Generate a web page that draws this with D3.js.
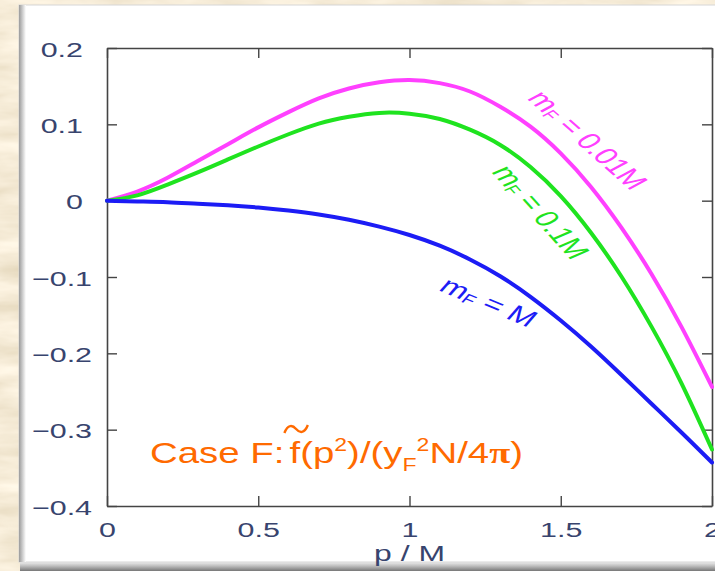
<!DOCTYPE html>
<html>
<head>
<meta charset="utf-8">
<script src="https://d3js.org/d3.v7.min.js"></script>
<style>
  body { margin: 0; padding: 0; overflow: hidden; }
  svg { display: block; }
</style>
</head>
<body>
<svg id="vis"></svg>

<script>
  // values
  var pVals = [0, 0.1, 0.2, 0.3, 0.4, 0.5, 0.6, 0.7, 0.8, 0.9, 1.0,
               1.1, 1.2, 1.3, 1.4, 1.5, 1.6, 1.7, 1.8, 1.9, 2.0];
  var mf001 = [0, 0.012, 0.030, 0.052, 0.074, 0.096, 0.116, 0.134, 0.147, 0.155, 0.158,
               0.154, 0.143, 0.123, 0.097, 0.062, 0.018, -0.035, -0.096, -0.166, -0.244];
  var mf01  = [0, 0.007, 0.021, 0.037, 0.054, 0.071, 0.087, 0.101, 0.110, 0.115, 0.114,
               0.107, 0.093, 0.073, 0.044, 0.006, -0.042, -0.099, -0.165, -0.240, -0.326];
  var mfM   = [0, -0.001, -0.002, -0.004, -0.006, -0.009, -0.013, -0.018, -0.025, -0.034, -0.045,
               -0.059, -0.077, -0.099, -0.126, -0.157, -0.191, -0.228, -0.266, -0.304, -0.343];

  var seriesNames = ['= 0.01M', '= 0.1M', '= M'];
  var seriesColors = ['#ff40ff', '#1fe31f', '#1c1cf5'];

  var xTicks = [0, 0.5, 1, 1.5, 2];
  var xTickLabels = ['0', '0.5', '1', '1.5', '2'];
  var yTicks = [0.2, 0.1, 0, -0.1, -0.2, -0.3, -0.4];
  var yTickLabels = ['0.2', '0.1', '0', '\u22120.1', '\u22120.2', '\u22120.3', '\u22120.4'];

  var W = 715, H = 571;
  var stretch = 1.45;   // the original picture was widened

  var svg = d3.select('#vis').attr('width', W).attr('height', H);
  var defs = svg.append('defs');

  // parchment texture
  var f = defs.append('filter').attr('id', 'paper')
      .attr('x', 0).attr('y', 0).attr('width', '100%').attr('height', '100%');
  f.append('feTurbulence').attr('type', 'fractalNoise')
      .attr('baseFrequency', '0.012 0.05').attr('numOctaves', 4).attr('seed', 7);
  f.append('feColorMatrix').attr('type', 'matrix')
      .attr('values', '0.35 0 0 0 0.74  0.38 0 0 0 0.64  0.45 0 0 0 0.45  0 0 0 0 1');

  var lg = defs.append('linearGradient').attr('id', 'leftEdge');
  lg.append('stop').attr('offset', '0%').attr('stop-color', '#9a9a9a');
  lg.append('stop').attr('offset', '100%').attr('stop-color', '#ffffff');
  var bg = defs.append('linearGradient').attr('id', 'bottomEdge')
      .attr('x1', 0).attr('y1', 0).attr('x2', 0).attr('y2', 1);
  bg.append('stop').attr('offset', '0%').attr('stop-color', '#eeeeee');
  bg.append('stop').attr('offset', '45%').attr('stop-color', '#bdbdbd');
  bg.append('stop').attr('offset', '100%').attr('stop-color', '#777777');

  svg.append('rect').attr('width', W).attr('height', H).attr('filter', 'url(#paper)');

  // white panel with bevelled edges
  svg.append('rect').attr('x', 20).attr('y', 562).attr('width', W).attr('height', 9)
      .attr('fill', 'url(#bottomEdge)');
  svg.append('rect').attr('x', 19).attr('y', 5).attr('width', W).attr('height', 557)
      .attr('fill', '#ffffff').attr('stroke', '#d6d6d6').attr('stroke-width', 1);
  svg.append('rect').attr('x', 19).attr('y', 5).attr('width', 7).attr('height', 557)
      .attr('fill', 'url(#leftEdge)');

  var margin = {left: 107, right: 712, top: 48, bottom: 506};
  var x = d3.scaleLinear().domain([0, 2]).range([margin.left, margin.right]);
  var y = d3.scaleLinear().domain([-0.4, 0.2]).range([margin.bottom, margin.top]);

  var tickColor = '#38446e';
  var plot = svg.append('g');

  // axes (ticks point inward on all four sides)
  var axB = plot.append('g').attr('transform', 'translate(0,' + margin.bottom + ')')
      .call(d3.axisBottom(x).tickValues(xTicks).tickSizeInner(-10).tickSizeOuter(0)
            .tickFormat(function(d, i) { return xTickLabels[i]; }));
  var axT = plot.append('g').attr('transform', 'translate(0,' + margin.top + ')')
      .call(d3.axisTop(x).tickValues(xTicks).tickSizeInner(-10).tickSizeOuter(0).tickFormat(''));
  var axL = plot.append('g').attr('transform', 'translate(' + margin.left + ',0)')
      .call(d3.axisLeft(y).tickValues(yTicks).tickSizeInner(-10).tickSizeOuter(0)
            .tickFormat(function(d, i) { return yTickLabels[i]; }));
  var axR = plot.append('g').attr('transform', 'translate(' + margin.right + ',0)')
      .call(d3.axisRight(y).tickValues(yTicks).tickSizeInner(-10).tickSizeOuter(0).tickFormat(''));

  [axB, axT, axL, axR].forEach(function(a) {
    a.selectAll('path.domain').attr('stroke', '#444').attr('stroke-width', 1.6);
    a.selectAll('.tick line').attr('stroke', '#444').attr('stroke-width', 1.4);
  });

  axB.selectAll('.tick text')
      .attr('y', 31).attr('dy', 0)
      .attr('fill', tickColor)
      .style('font-family', '"Liberation Sans", Arial, sans-serif')
      .style('font-size', '21px')
      .attr('transform', 'scale(' + stretch + ',1)');

  axL.selectAll('.tick text')
      .attr('x', function(d) { return (d < 0 ? -15 : -24) / stretch; })
      .attr('dy', 0).attr('y', 8)
      .attr('fill', tickColor)
      .style('font-family', '"Liberation Sans", Arial, sans-serif')
      .style('font-size', '21px')
      .attr('transform', 'scale(' + stretch + ',1)');

  // x axis title
  svg.append('text')
      .attr('transform', 'translate(' + x(1) + ',561) scale(' + stretch + ',1)')
      .attr('text-anchor', 'middle')
      .attr('fill', tickColor)
      .style('font-family', '"Liberation Sans", Arial, sans-serif')
      .style('font-size', '22px')
      .text('p / M');

  // curves
  var series = [mf001, mf01, mfM];
  var line = d3.line()
      .x(function(d, i) { return x(pVals[i]); })
      .y(function(d) { return y(d); })
      .curve(d3.curveNatural);

  plot.selectAll('path.curve')
      .data(series)
      .enter().append('path')
      .attr('class', 'curve')
      .attr('d', line)
      .attr('fill', 'none')
      .attr('stroke', function(d, i) { return seriesColors[i]; })
      .attr('stroke-width', 4)
      .attr('stroke-linecap', 'round');

  // curve labels, rotated along the curves
  var labelPos = [[588, 140, 52], [541, 212, 58], [489, 302, 31]];
  labelPos.forEach(function(lp, i) {
    var t = svg.append('text')
        .attr('transform', 'translate(' + lp[0] + ',' + lp[1] + ') scale(' + stretch + ',1) rotate(' + lp[2] + ')')
        .attr('text-anchor', 'middle')
        .attr('dominant-baseline', 'central')
        .attr('fill', seriesColors[i])
        .style('font-family', '"Liberation Sans", Arial, sans-serif')
        .style('font-size', '23px');
    t.append('tspan').text('m');
    t.append('tspan').attr('dy', 5).style('font-size', '14px').text('F');
    t.append('tspan').attr('dy', -5).text(' ' + seriesNames[i]);
  });

  // formula
  var cfScale = 1.28;
  var cf = svg.append('text')
      .attr('transform', 'translate(150,463) scale(' + cfScale + ',1)')
      .attr('fill', '#ff6a00')
      .style('font-family', '"Liberation Sans", Arial, sans-serif')
      .style('font-size', '30px');
  cf.append('tspan').text('Case F:');
  cf.append('tspan').attr('dx', 4).text('f(p');
  cf.append('tspan').attr('dy', -12).style('font-size', '18px').text('2');
  cf.append('tspan').attr('dy', 12).text(')/(y');
  cf.append('tspan').attr('dy', 8).style('font-size', '18px').text('F');
  cf.append('tspan').attr('dy', -20).style('font-size', '18px').text('2');
  cf.append('tspan').attr('dy', 12).text('N/4');
  cf.append('tspan').style('font-family', '"Liberation Serif", serif').style('font-weight', 'bold').text('\u03c0');
  cf.append('tspan').text(')');

  // wide tilde over "f(" , placed from the measured glyph box
  var fx = cf.node().getExtentOfChar(7);
  var tx0 = 150 + (fx.x - 4) * cfScale, tx1 = 150 + (fx.x + fx.width + 6) * cfScale;
  var ty = 429, tw = tx1 - tx0;
  svg.append('path')
      .attr('d', 'M' + tx0 + ',' + (ty + 4) +
                 ' C' + (tx0 + tw * 0.15) + ',' + (ty - 5) + ' ' + (tx0 + tw * 0.35) + ',' + (ty - 4) + ' ' + (tx0 + tw * 0.5) + ',' + ty +
                 ' S' + (tx0 + tw * 0.85) + ',' + (ty + 5) + ' ' + tx1 + ',' + (ty - 4))
      .attr('fill', 'none').attr('stroke', '#ff6a00').attr('stroke-width', 2.4);
</script>
</body>
</html>
